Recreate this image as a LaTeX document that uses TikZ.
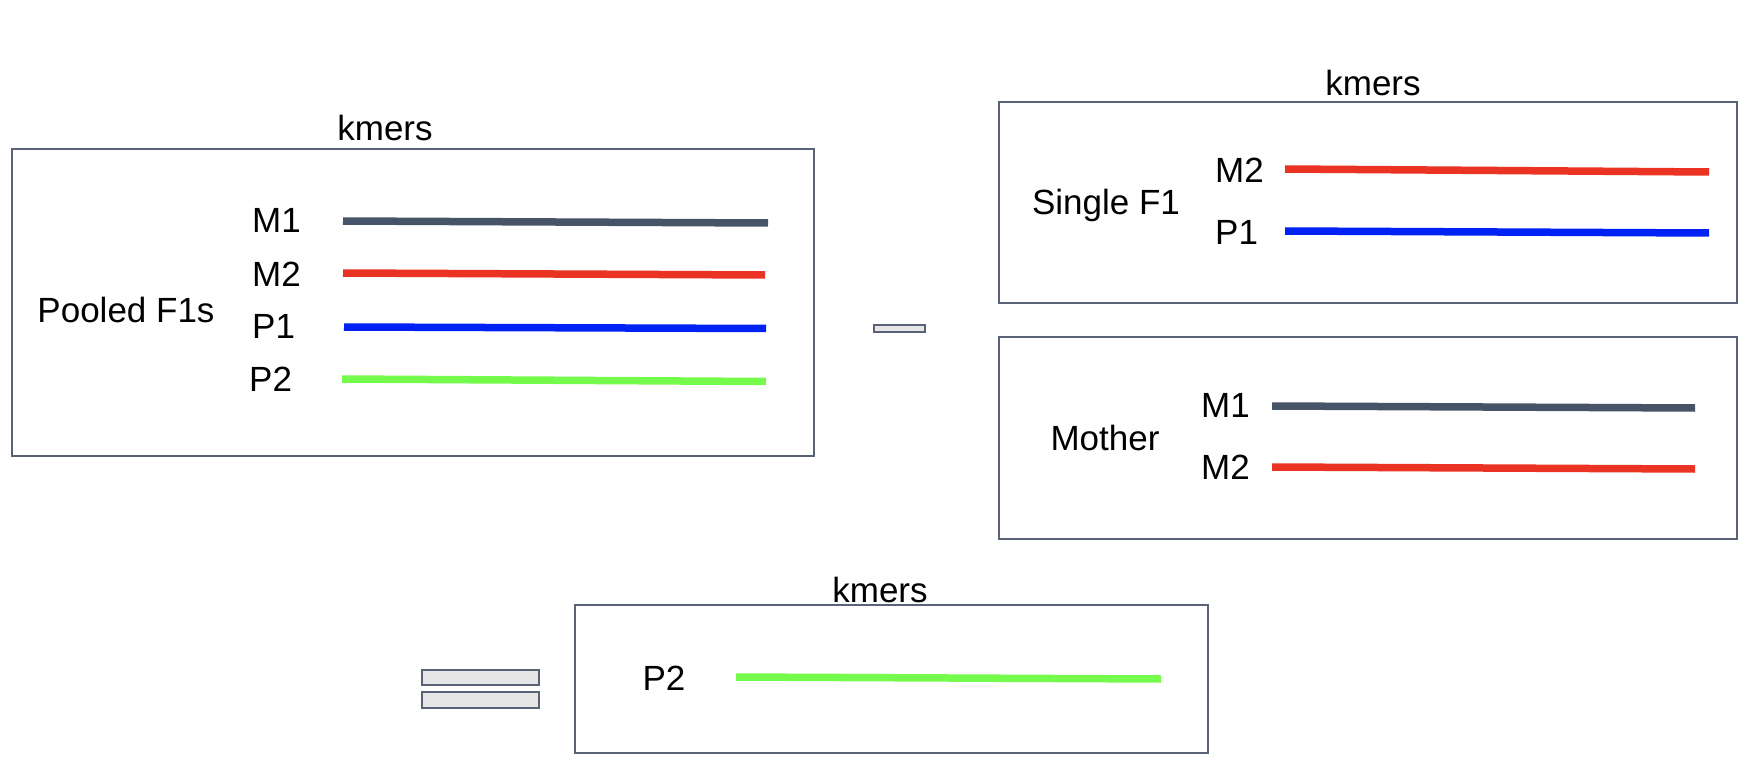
\documentclass[tikz,border=0pt]{standalone}
\usepackage{fontspec}
\setmainfont{Liberation Sans}
\definecolor{boxc}{HTML}{5A6376}
\definecolor{mone}{HTML}{475366}
\definecolor{mred}{HTML}{EA3323}
\definecolor{pblue}{HTML}{0022F5}
\definecolor{pgreen}{HTML}{75FB4C}
\definecolor{opfill}{HTML}{E6E6E6}
\tikzset{
  panel/.style={draw=boxc, line width=1.8pt, anchor=north west, inner sep=0pt},
  lbl/.style={inner sep=0pt, text height=25pt, text depth=0pt, font=\fontsize{35}{40}\selectfont},
  track/.style={line width=7.5pt},
  opbar/.style={draw=boxc, fill=opfill, line width=1.6pt, anchor=north west, inner sep=0pt}
}
\begin{document}
\begin{tikzpicture}[x=1pt,y=-1pt]
\useasboundingbox (0,0) rectangle (1754,762);
% Pooled F1s panel
\node[panel, minimum width=802pt, minimum height=307pt] (pool) at (11,148) {};
\node[lbl] (k1) at (385,128) {kmers};
\node[lbl] (pooled) at (126,310) {Pooled F1s};
\node[lbl, anchor=west] (pm1) at (252,220) {M1};
\node[lbl, anchor=west] (pm2) at (252,273.5) {M2};
\node[lbl, anchor=west] (pp1) at (252,326) {P1};
\node[lbl, anchor=west] (pp2) at (249,379) {P2};
\draw[track, mone] (343,221) -- (768,223);
\draw[track, mred] (343,273) -- (765,275);
\draw[track, pblue] (344,327) -- (766,328.5);
\draw[track, pgreen] (342,379) -- (766,381.5);
% minus sign
\node[opbar, minimum width=51pt, minimum height=7pt] (minus) at (873,324) {};
% Single F1 panel
\node[panel, minimum width=738pt, minimum height=201pt] (single) at (998,101) {};
\node[lbl] (k2) at (1373,83.5) {kmers};
\node[lbl] (singlel) at (1106,202) {Single F1};
\node[lbl, anchor=west] (sm2) at (1215,170) {M2};
\node[lbl, anchor=west] (sp1) at (1215,232) {P1};
\draw[track, mred] (1285,169) -- (1709,172);
\draw[track, pblue] (1285,231) -- (1709,233);
% Mother panel
\node[panel, minimum width=738pt, minimum height=202pt] (mother) at (998,336) {};
\node[lbl] (motherl) at (1105,437.5) {Mother};
\node[lbl, anchor=west] (mm1) at (1201,405) {M1};
\node[lbl, anchor=west] (mm2) at (1201,467) {M2};
\draw[track, mone] (1272,406) -- (1695,408);
\draw[track, mred] (1272,467) -- (1695,469);
% equals sign
\node[opbar, minimum width=117pt, minimum height=15pt] (eqa) at (421,669) {};
\node[opbar, minimum width=117pt, minimum height=16pt] (eqb) at (421,691) {};
% Result panel
\node[panel, minimum width=633pt, minimum height=148pt] (result) at (574,604) {};
\node[lbl] (k3) at (880,590) {kmers};
\node[lbl] (rp2) at (664,678) {P2};
\draw[track, pgreen] (736,677) -- (1161,679);
\end{tikzpicture}
\end{document}
